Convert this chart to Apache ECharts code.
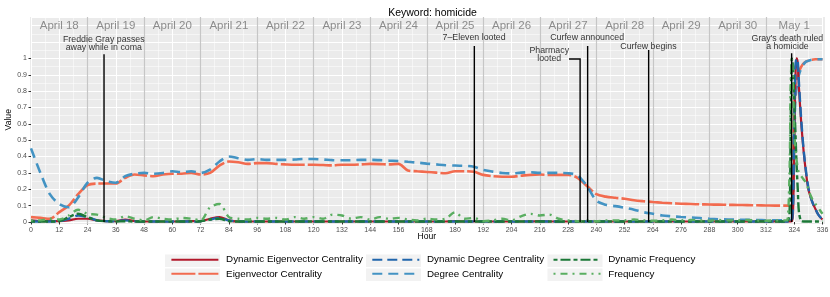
<!DOCTYPE html>
<html><head><meta charset="utf-8">
<script src="https://cdn.jsdelivr.net/npm/echarts@6/dist/echarts.min.js"></script>
<style>html,body{margin:0;padding:0;background:#fff}#c{width:830px;height:297px}</style>
</head><body><div id="c"></div>
<script>
// ---------- data ----------
const hours = [0,4,8,12,16,20,24,28,32,36,40,44,48,52,56,60,64,68,72,76,80,84,88,92,96,100,104,108,112,116,120,124,128,132,136,140,144,148,152,156,160,164,168,172,176,180,184,188,192,196,200,204,208,212,216,220,224,228,232,236,240,244,248,252,256,260,264,268,272,276,280,284,288,292,296,300,304,308,312,316,320,321,322,322.5,323,323.5,324,324.5,325,325.5,326,327,328,329,330,331,332,333,334,335,336];

const eigenvector = [0.03,0.025,0.02,0.06,0.10,0.17,0.225,0.235,0.235,0.235,
0.27,0.29,0.285,0.28,0.29,0.295,0.295,0.30,0.29,0.30,
0.345,0.37,0.365,0.355,0.36,0.36,0.355,0.352,0.35,0.35,
0.35,0.348,0.346,0.35,0.35,0.352,0.355,0.354,0.352,0.355,
0.315,0.31,0.306,0.302,0.298,0.31,0.31,0.307,0.288,0.28,
0.277,0.277,0.283,0.288,0.29,0.288,0.288,0.288,0.27,0.22,
0.17,0.155,0.148,0.142,0.133,0.127,0.122,0.118,0.115,0.112,
0.11,0.108,0.107,0.106,0.105,0.104,0.103,0.102,0.101,0.1,
0.1,
0.1,0.1,0.1,0.1,0.25,0.7,0.86,0.88,0.9,0.92,0.95,0.97,0.98,0.985,0.99,0.993,0.995,0.995,0.995,0.995];

const degree = [0.45,0.30,0.17,0.11,0.09,0.15,0.24,0.27,0.25,0.24,
0.28,0.295,0.30,0.295,0.30,0.31,0.305,0.31,0.30,0.32,
0.37,0.40,0.39,0.38,0.385,0.38,0.38,0.38,0.382,0.385,
0.385,0.382,0.378,0.377,0.378,0.38,0.38,0.378,0.375,0.373,
0.368,0.363,0.357,0.352,0.347,0.345,0.343,0.338,0.318,0.308,
0.30,0.297,0.302,0.304,0.30,0.30,0.30,0.298,0.285,0.22,
0.13,0.105,0.097,0.087,0.075,0.06,0.05,0.04,0.035,0.031,
0.028,0.024,0.02,0.017,0.015,0.014,0.013,0.012,0.011,0.01,
0.01,
0.01,0.01,0.01,0.02,0.15,0.55,0.75,0.82,0.87,0.9,0.94,0.965,0.98,0.985,0.99,0.993,0.995,0.995,0.995,0.995];

const dynEigenvector = [0.01,0.005,0.005,0.005,0.01,0.02,0.02,0.01,0.005,0.005,
0.015,0.005,0.003,0.003,0.003,0.003,0.003,0.005,0.005,0.02,
0.03,0.01,0.003,0.003,0.003,0.003,0.003,0.003,0.003,0.003,
0.003,0.003,0.003,0.003,0.003,0.003,0.003,0.003,0.003,0.003,
0.003,0.003,0.003,0.003,0.003,0.005,0.003,0.003,0.003,0.003,
0.003,0.003,0.003,0.003,0.005,0.003,0.003,0.003,0.003,0.003,
0.003,0.003,0.003,0.003,0.003,0.003,0.003,0.003,0.003,0.003,
0.003,0.003,0.003,0.003,0.003,0.003,0.003,0.003,0.003,0.003,
0.003,
0.003,0.003,0.003,0.005,0.05,0.45,0.88,1.0,0.97,0.82,0.6,0.43,0.3,0.2,0.15,0.11,0.08,0.05,0.03,0.015];

const dynDegree = [0.005,0.003,0.003,0.005,0.02,0.04,0.03,0.01,0.005,0.005,
0.01,0.005,0.003,0.003,0.003,0.003,0.003,0.003,0.005,0.015,
0.025,0.01,0.003,0.003,0.003,0.003,0.003,0.003,0.003,0.003,
0.003,0.003,0.003,0.003,0.003,0.003,0.003,0.003,0.003,0.003,
0.003,0.003,0.003,0.003,0.003,0.003,0.003,0.003,0.003,0.003,
0.003,0.003,0.003,0.003,0.003,0.003,0.003,0.003,0.003,0.003,
0.003,0.003,0.003,0.003,0.003,0.003,0.003,0.003,0.003,0.003,
0.003,0.003,0.003,0.003,0.003,0.003,0.003,0.003,0.003,0.003,
0.003,
0.003,0.003,0.003,0.005,0.1,0.6,0.95,1.0,0.98,0.85,0.62,0.44,0.31,0.21,0.15,0.11,0.08,0.05,0.03,0.015];

const dynFrequency = [0.003,0.003,0.003,0.005,0.03,0.05,0.03,0.01,0.005,0.003,
0.005,0.003,0.003,0.003,0.003,0.003,0.003,0.003,0.005,0.015,
0.02,0.005,0.003,0.003,0.003,0.003,0.003,0.003,0.003,0.003,
0.003,0.003,0.003,0.003,0.003,0.003,0.003,0.003,0.003,0.003,
0.003,0.003,0.003,0.003,0.003,0.003,0.003,0.003,0.003,0.003,
0.003,0.003,0.003,0.003,0.003,0.003,0.003,0.003,0.003,0.003,
0.003,0.003,0.003,0.003,0.003,0.003,0.003,0.003,0.003,0.003,
0.003,0.003,0.003,0.003,0.003,0.003,0.003,0.003,0.003,0.003,
0.003,
0.003,0.05,0.6,1.0,0.95,0.75,0.55,0.35,0.2,0.06,0.005,0.003,0.003,0.003,0.003,0.003,0.003,0.003,0.003,0.003];

const frequency = [0.01,0.01,0.02,0.015,0.04,0.075,0.05,0.045,0.025,0.015,
0.035,0.02,0.01,0.03,0.02,0.015,0.025,0.02,0.01,0.09,
0.11,0.03,0.02,0.015,0.025,0.02,0.025,0.015,0.03,0.02,
0.03,0.02,0.045,0.04,0.02,0.03,0.015,0.03,0.02,0.025,
0.015,0.01,0.02,0.015,0.02,0.06,0.02,0.025,0.005,0.01,
0.02,0.01,0.035,0.05,0.04,0.045,0.02,0.01,0.005,0.01,
0.005,0.01,0.01,0.01,0.015,0.01,0.008,0.01,0.015,0.01,
0.012,0.01,0.008,0.012,0.01,0.01,0.012,0.01,0.008,0.01,
0.01,
0.01,0.3,0.85,1.0,0.8,0.55,0.45,0.38,0.33,0.3,0.28,0.26,0.24,0.2,0.16,0.13,0.11,0.09,0.07,0.05];

const dayNames = ['April 18','April 19','April 20','April 21','April 22','April 23','April 24','April 25','April 26','April 27','April 28','April 29','April 30','May 1'];
const dayCenters = [12,36,60,84,108,132,156,180,204,228,252,276,300,324];
const dayBoundaries = [24,48,72,96,120,144,168,192,216,240,264,288,312];
const dayLabelValue = 1.198;

const xTickInterval = 12;
const yTickValues = [0,0.1,0.2,0.3,0.4,0.5,0.6,0.7,0.8,0.9,1];

// events: vertical line hour, line top value, label text, label hour, label value
const eventNames = ['Freddie Gray passes\naway while in coma','7\u2013Eleven looted','Pharmacy\nlooted','Curfew announced','Curfew begins',"Gray's death ruled\na homicide"];
const eventHours = [31,188.2,233.1,236.3,262.2,322.9];
const eventTops = [1.025,1.076,0.996,1.076,1.051,1.031];
const eventElbowHours = [null,null,228.4,null,null,null];
const eventLabelHours = [30.9,188.1,220,236.1,262.1,321.1];
const eventLabelValues = [1.092,1.127,1.021,1.127,1.072,1.099];

// ---------- chart ----------
const FONT = '"Liberation Sans", Arial, Helvetica, sans-serif';
const chart = echarts.init(document.getElementById('c'), null, {renderer: 'canvas'});
const pair = arr => hours.map((h, i) => [h, arr[i]]);

const seriesDefs = [
  {name: 'Eigenvector Centrality', data: eigenvector, color: '#f26b4f', type: [24, 3], width: 2.6},
  {name: 'Degree Centrality', data: degree, color: '#4393c3', type: [10, 6], width: 2.6},
  {name: 'Dynamic Eigenvector Centrality', data: dynEigenvector, color: '#b2182b', type: 'solid', width: 2.2},
  {name: 'Dynamic Degree Centrality', data: dynDegree, color: '#2166ac', type: [10, 5], width: 2.4},
  {name: 'Dynamic Frequency', data: dynFrequency, color: '#1b7837', type: [4, 3, 10, 3], width: 2.4},
  {name: 'Frequency', data: frequency, color: '#5aae61', type: [2, 5, 7, 5], width: 2.4}
];

const dataSeries = seriesDefs.map(d => ({
  name: d.name, type: 'line', xAxisIndex: 2, yAxisIndex: 2,
  data: pair(d.data), showSymbol: false, symbol: 'none', smooth: 0.3,
  clip: false, z: 3, silent: true,
  lineStyle: {color: d.color, width: d.width, type: d.type},
  itemStyle: {color: d.color}
}));

const eventLines = eventHours.map((h, i) => {
  const coords = [[h, 0], [h, eventTops[i]]];
  if (eventElbowHours[i] !== null) coords.push([eventElbowHours[i], eventTops[i]]);
  return {coords};
});

const legendLayout = [
  {name: 'Dynamic Eigenvector Centrality', left: 170.4, top: 254.7},
  {name: 'Eigenvector Centrality', left: 170.4, top: 268.8},
  {name: 'Dynamic Degree Centrality', left: 371.3, top: 254.7},
  {name: 'Degree Centrality', left: 371.3, top: 268.8},
  {name: 'Dynamic Frequency', left: 552.5, top: 254.7},
  {name: 'Frequency', left: 552.5, top: 268.8}
];
const keyBoxes = [];
[165, 366, 547.5].forEach(x => [254.5, 268.5].forEach(y => keyBoxes.push({
  type: 'rect', left: x, top: y, shape: {width: 55, height: 12.5},
  style: {fill: '#f2f2f2'}, z: 0, silent: true
})));

const gridBase = {outerBoundsMode: 'none', containLabel: false};
const option = {
  animation: false,
  textStyle: {fontFamily: FONT},
  title: {text: 'Keyword: homicide', left: 427.5, textAlign: 'center', top: 3,
    textStyle: {fontSize: 10.5, fontWeight: 'normal', color: '#000', fontFamily: FONT}},
  graphic: keyBoxes,
  legend: legendLayout.map(l => ({
    data: [l.name], left: l.left, top: l.top, orient: 'horizontal', padding: 0,
    itemWidth: 47, itemHeight: 12, selectedMode: false,
    itemStyle: {opacity: 0},
    formatter: n => ' ' + n,
    textStyle: {fontSize: 9.8, color: '#000', fontFamily: FONT}
  })),
  grid: [
    Object.assign({left: 30, right: 5, top: 17, bottom: 73, show: true, backgroundColor: '#ebebeb', borderWidth: 0, z: -1}, gridBase),
    Object.assign({left: 31, right: 7.5, top: 17, bottom: 73}, gridBase),
    Object.assign({left: 31, right: 7.5, top: 17.5, bottom: 75}, gridBase)
  ],
  xAxis: [
    {gridIndex: 0, type: 'value', show: false, min: 0, max: 1},
    {gridIndex: 1, type: 'value', min: 0, max: 336, interval: xTickInterval,
      axisLine: {show: false},
      axisTick: {show: true, length: 2.5, lineStyle: {color: '#333', width: 1}},
      axisLabel: {fontSize: 7, color: '#4d4d4d', margin: 2.5, fontFamily: FONT},
      splitLine: {show: true, lineStyle: {color: '#ffffff', width: 1.1}},
      minorTick: {show: false, splitNumber: 2},
      minorSplitLine: {show: true, lineStyle: {color: '#ffffff', width: 0.5}},
      name: 'Hour', nameLocation: 'middle', nameGap: 8, nameMoveOverlap: false,
      nameTextStyle: {fontSize: 8.6, color: '#000', fontFamily: FONT}},
    {gridIndex: 2, type: 'value', min: 0, max: 336, show: false}
  ],
  yAxis: [
    {gridIndex: 0, type: 'value', show: false, min: 0, max: 1},
    {gridIndex: 1, type: 'value', show: false, min: -0.0122, max: 1.253},
    {gridIndex: 2, type: 'value', min: 0, max: 1.25, interval: 0.1, position: 'left',
      axisLine: {show: false},
      axisTick: {show: true, length: 2.5, lineStyle: {color: '#333', width: 1}, customValues: yTickValues},
      axisLabel: {fontSize: 7, color: '#4d4d4d', margin: 4, fontFamily: FONT, customValues: yTickValues,
        formatter: v => (v > 1.0001 ? '' : String(+v.toFixed(1)))},
      splitLine: {show: false},
      name: 'Value', nameLocation: 'middle', nameGap: 17.5, nameMoveOverlap: false,
      nameTextStyle: {fontSize: 8.6, color: '#000', fontFamily: FONT}},
    {gridIndex: 2, type: 'value', min: 0, max: 1.25, interval: 0.1, position: 'left',
      axisLine: {show: false}, axisTick: {show: false}, axisLabel: {show: false},
      splitLine: {show: true, lineStyle: {color: '#ffffff', width: 1.1}},
      minorTick: {show: false, splitNumber: 2},
      minorSplitLine: {show: true, lineStyle: {color: '#ffffff', width: 0.5}}}
  ],
  series: [
    {type: 'lines', coordinateSystem: 'cartesian2d', xAxisIndex: 1, yAxisIndex: 1, z: 1, silent: true,
      lineStyle: {color: '#c6c6c6', width: 1.2, opacity: 1},
      data: dayBoundaries.map(h => ({coords: [[h, -0.0122], [h, 1.253]]}))},
    {type: 'scatter', xAxisIndex: 2, yAxisIndex: 2, symbolSize: 1, silent: true, z: 2,
      itemStyle: {color: 'rgba(0,0,0,0)'},
      label: {show: true, position: 'inside', formatter: '{b}', fontSize: 11.5, color: '#737373', fontFamily: FONT},
      data: dayNames.map((n, i) => ({name: n, value: [dayCenters[i], dayLabelValue]}))},
    ...dataSeries,
    {type: 'lines', coordinateSystem: 'cartesian2d', xAxisIndex: 2, yAxisIndex: 2, polyline: true, z: 5, silent: true,
      lineStyle: {color: '#000', width: 1.4, opacity: 1},
      data: eventLines},
    {type: 'scatter', xAxisIndex: 2, yAxisIndex: 2, symbolSize: 1, silent: true, z: 6,
      itemStyle: {color: 'rgba(0,0,0,0)'},
      label: {show: true, position: 'inside', formatter: '{b}', fontSize: 8.8, lineHeight: 8.2, color: '#000', align: 'center', fontFamily: FONT},
      data: eventNames.map((n, i) => ({name: n, value: [eventLabelHours[i], eventLabelValues[i]]}))}
  ]
};
chart.setOption(option);
</script>
</body></html>
